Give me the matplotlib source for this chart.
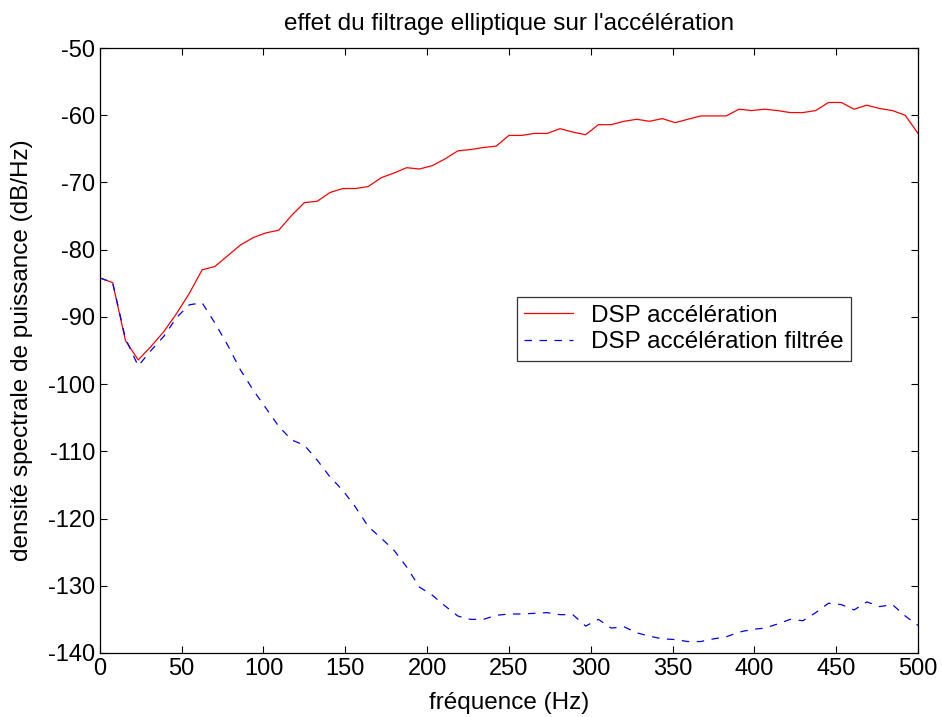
import numpy as np
import matplotlib
matplotlib.use("Agg")
import matplotlib.pyplot as plt

plt.rcParams['font.family'] = ['Liberation Sans', 'DejaVu Sans']
plt.rcParams['axes.unicode_minus'] = False

# frequency grid: 65 points from 0 to 500 Hz
freq = np.linspace(0, 500, 65)

dsp_acc = [
    -84.2, -84.9, -93.5, -96.4, -94.4, -92.2, -89.5, -86.5, -83.0, -82.5,
    -80.9, -79.3, -78.2, -77.5, -77.1, -74.9, -73.0, -72.8, -71.5, -70.9,
    -70.9, -70.6, -69.3, -68.6, -67.8, -68.0, -67.5, -66.5, -65.3, -65.1,
    -64.8, -64.6, -63.0, -63.0, -62.7, -62.7, -62.0, -62.5, -62.9, -61.4,
    -61.4, -60.9, -60.6, -60.9, -60.5, -61.1, -60.6, -60.1, -60.1, -60.1,
    -59.1, -59.3, -59.1, -59.3, -59.6, -59.6, -59.3, -58.1, -58.1, -59.1,
    -58.5, -59.0, -59.3, -60.0, -62.7,
]

dsp_acc_filt = [
    -84.2, -84.9, -93.2, -97.3, -95.0, -92.9, -90.1, -88.2, -87.9, -90.9,
    -94.2, -97.9, -100.9, -103.6, -106.3, -108.3, -109.1, -111.3, -113.8, -115.8,
    -118.3, -121.2, -122.9, -124.7, -127.2, -130.2, -131.4, -133.0, -134.5, -135.0,
    -135.0, -134.4, -134.2, -134.2, -134.1, -134.0, -134.3, -134.3, -136.0, -135.0,
    -136.3, -136.1, -137.0, -137.5, -137.9, -138.0, -138.3, -138.3, -137.9, -137.6,
    -136.9, -136.5, -136.3, -135.7, -135.0, -135.2, -134.0, -132.6, -132.8, -133.6,
    -132.4, -133.1, -132.8, -134.5, -135.9,
]

fig = plt.figure(figsize=(9.42, 7.17), dpi=100)
ax = fig.add_axes([0.106, 0.0893, 0.8685, 0.8437])

ax.plot(freq, dsp_acc, color='#ff0000', lw=0.9, label='DSP accélération')
ax.plot(freq, dsp_acc_filt, color='#0000ff', lw=0.9, ls=(0, (6, 6)),
        label='DSP accélération filtrée')

ax.set_xlim(0, 500)
ax.set_ylim(-140, -50)
ax.set_xticks(np.arange(0, 501, 50))
ax.set_yticks(np.arange(-140, -49, 10))
ax.tick_params(direction='in', top=True, right=True, labelsize=17, length=5, width=0.8)
for sp in ax.spines.values():
    sp.set_linewidth(0.9)

ax.set_title("effet du filtrage elliptique sur l'accélération", fontsize=17.5, pad=13)
ax.set_xlabel('fréquence (Hz)', fontsize=17.5, labelpad=9)
ax.set_ylabel('densité spectrale de puissance (dB/Hz)', fontsize=17.5, labelpad=11)

leg = ax.legend(loc='upper left', bbox_to_anchor=(0.51, 0.588), fontsize=17.5,
                frameon=True, fancybox=False, edgecolor='black', handlelength=2.0,
                borderpad=0.3, labelspacing=0.2, handletextpad=0.75,
                borderaxespad=0)
leg.get_frame().set_linewidth(0.9)

fig.savefig('out.png', dpi=100)
